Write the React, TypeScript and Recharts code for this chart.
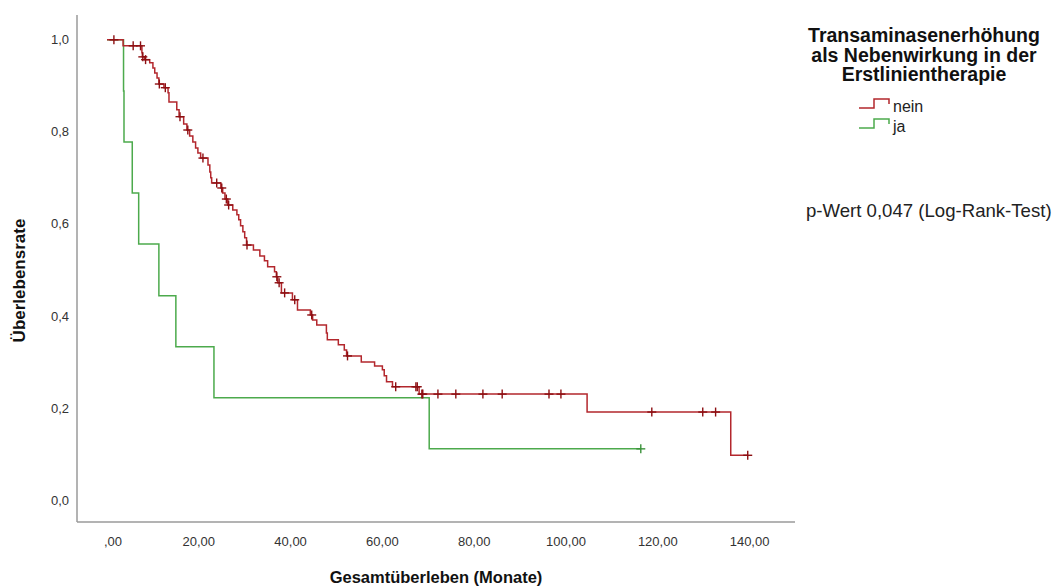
import React from 'react';
import { ComposedChart, Line, Scatter, XAxis, YAxis, Label } from 'recharts';

const FONT = '"Liberation Sans", Arial, Helvetica, sans-serif';

// Kaplan–Meier step points: [months, cumulative survival from that time on]
const neinSteps: [number, number][] = [
  [0, 1.0], [3.5, 0.987], [7.6, 0.972], [7.7, 0.963], [8.2, 0.957], [9.3, 0.95],
  [10.0, 0.939], [10.4, 0.928], [10.9, 0.917], [11.3, 0.904], [12.4, 0.896],
  [13.3, 0.885], [13.5, 0.865], [15.2, 0.848], [15.7, 0.833], [16.7, 0.817],
  [17.4, 0.804], [18.0, 0.791], [18.7, 0.778], [19.3, 0.765], [19.8, 0.754],
  [20.4, 0.743], [22.0, 0.728], [22.4, 0.713], [22.6, 0.7], [22.8, 0.689],
  [24.8, 0.678], [25.2, 0.667], [25.7, 0.654], [26.3, 0.641], [27.4, 0.63],
  [28.3, 0.62], [28.7, 0.609], [29.1, 0.596], [29.6, 0.583], [30.0, 0.57],
  [30.4, 0.554], [31.9, 0.543], [33.3, 0.53], [34.3, 0.52], [35.0, 0.507],
  [36.5, 0.496], [36.9, 0.485], [37.2, 0.472], [38.0, 0.45], [40.4, 0.435],
  [41.5, 0.413], [44.3, 0.402], [44.8, 0.391], [45.7, 0.38], [47.8, 0.363],
  [48.0, 0.348], [50.4, 0.337], [51.7, 0.326], [52.2, 0.313], [55.4, 0.3],
  [58.3, 0.291], [60.0, 0.283], [60.4, 0.27], [60.9, 0.257], [62.2, 0.246],
  [68.0, 0.23], [104.6, 0.191], [135.9, 0.097], [139.6, 0.097],
];

// censored observations (months, survival level at that time)
const neinCensored: [number, number][] = [
  [1.5, 1.0], [5.7, 0.987], [7.3, 0.987], [7.8, 0.963], [8.4, 0.957], [11.4, 0.904],
  [12.7, 0.896], [15.9, 0.833], [17.6, 0.804], [20.9, 0.743], [23.9, 0.689],
  [25.0, 0.678], [26.0, 0.654], [26.5, 0.641], [30.5, 0.554], [37.0, 0.485],
  [37.5, 0.472], [38.7, 0.45], [40.9, 0.435], [44.6, 0.402], [52.4, 0.313],
  [62.9, 0.246], [67.3, 0.246], [67.6, 0.246], [68.6, 0.23], [68.8, 0.23],
  [72.1, 0.23], [76.0, 0.23], [81.9, 0.23], [86.1, 0.23], [96.3, 0.23],
  [98.9, 0.23], [118.7, 0.191], [129.8, 0.191], [132.6, 0.191], [139.6, 0.097],
];

const jaSteps: [number, number][] = [
  [0, 1.0], [3.6, 0.889], [3.7, 0.778], [5.5, 0.667], [6.9, 0.556], [11.3, 0.444],
  [15.0, 0.333], [23.3, 0.222], [70.2, 0.111], [116.3, 0.111],
];

const jaCensored: [number, number][] = [[116.3, 0.111]];

const xTicks = [0, 20, 40, 60, 80, 100, 120, 140];
const yTicks = [0, 0.2, 0.4, 0.6, 0.8, 1.0];

const groups = ['nein', 'ja'];
const legendTitle = ['Transaminasenerhöhung', 'als Nebenwirkung in der', 'Erstlinientherapie'];
const pValueText = 'p-Wert 0,047 (Log-Rank-Test)';

const RED = '#b3272d';
const RED_MARK = '#8c0f12';
const GREEN = '#4caa4c';
const GREEN_MARK = '#3a923a';

const toRows = (pts: [number, number][]) => pts.map(([t, v]) => ({ t, v }));

const neinData = toRows(neinSteps);
const jaData = toRows(jaSteps);
const neinCensorData = toRows(neinCensored);
const jaCensorData = toRows(jaCensored);

const fmtX = (v: number) => (v === 0 ? ',00' : v.toFixed(2).replace('.', ','));
const fmtY = (v: number) => v.toFixed(1).replace('.', ',');

const plus = (color: string) => (props: any) => {
  const { cx, cy } = props;
  if (cx == null || cy == null) return <g />;
  return (
    <g stroke={color} strokeWidth={1.4}>
      <line x1={cx - 4.5} x2={cx + 4.5} y1={cy} y2={cy} />
      <line x1={cx} x2={cx} y1={cy - 4.5} y2={cy + 4.5} />
    </g>
  );
};

const XTick = (props: any) => {
  const { x, y, payload } = props;
  const v = payload.value as number;
  return (
    <text x={x} y={y} dx={v === 0 ? 6 : 0} dy="0.355em" textAnchor="middle"
      fontFamily={FONT} fontSize={13} fill="#333">
      {fmtX(v)}
    </text>
  );
};

const YTick = (props: any) => {
  const { x, y, payload } = props;
  return (
    <text x={x} y={y} dy="0.355em" textAnchor="end" fontFamily={FONT} fontSize={13} fill="#333">
      {fmtY(payload.value)}
    </text>
  );
};

const StepIcon = ({ x, y, color }: { x: number; y: number; color: string }) => (
  <path d={`M${x},${y} h15 v-9 h15 v5`} fill="none" stroke={color} strokeWidth={1.5} />
);

export default function App() {
  return (
    <div style={{ position: 'absolute', left: 0, top: 0, width: 1056, height: 587, background: '#fff' }}>
      <ComposedChart width={1056} height={587} margin={{ top: 15, right: 261, bottom: 35, left: 17 }}>
        <XAxis
          type="number"
          dataKey="t"
          domain={[-6.54, 149.9]}
          ticks={xTicks}
          allowDataOverflow
          tickLine={false}
          tickSize={0}
          tickMargin={19}
          height={30}
          axisLine={{ stroke: '#9a9a9a', strokeWidth: 1.5 }}
          tick={<XTick />}
        >
          <Label
            content={(p: any) => {
              const vb = p.viewBox;
              return (
                <text x={vb.x + vb.width / 2} y={vb.y + 61} textAnchor="middle"
                  fontFamily={FONT} fontSize={16.5} fontWeight="bold" fill="#111">
                  Gesamtüberleben (Monate)
                </text>
              );
            }}
          />
        </XAxis>
        <YAxis
          type="number"
          dataKey="v"
          domain={[-0.048, 1.054]}
          ticks={yTicks}
          allowDataOverflow
          tickLine={false}
          tickSize={0}
          tickMargin={8}
          width={60}
          axisLine={{ stroke: '#9a9a9a', strokeWidth: 1.5 }}
          tick={<YTick />}
        >
          <Label
            content={(p: any) => {
              const vb = p.viewBox;
              const cx = vb.x + 2;
              const cy = vb.y + vb.height / 2 + 12;
              return (
                <text x={cx} y={cy} transform={`rotate(-90, ${cx}, ${cy})`} textAnchor="middle"
                  dominantBaseline="central" fontFamily={FONT} fontSize={17} fontWeight="bold" fill="#111">
                  Überlebensrate
                </text>
              );
            }}
          />
        </YAxis>
        <Line data={jaData} dataKey="v" type="stepAfter" stroke={GREEN} strokeWidth={1.5}
          dot={false} activeDot={false} isAnimationActive={false} />
        <Line data={neinData} dataKey="v" type="stepAfter" stroke={RED} strokeWidth={1.5}
          dot={false} activeDot={false} isAnimationActive={false} />
        <Scatter data={jaCensorData} dataKey="v" shape={plus(GREEN_MARK)} isAnimationActive={false} />
        <Scatter data={neinCensorData} dataKey="v" shape={plus(RED_MARK)} isAnimationActive={false} />
      </ComposedChart>

      <svg width={1056} height={587} style={{ position: 'absolute', left: 0, top: 0, pointerEvents: 'none' }}>
        {legendTitle.map((line, i) => (
          <text key={line} x={924} y={42 + i * 19.5} textAnchor="middle" fontFamily={FONT}
            fontSize={19.5} fontWeight="bold" fill="#111">
            {line}
          </text>
        ))}
        <StepIcon x={859} y={108} color={RED} />
        <text x={893} y={112} fontFamily={FONT} fontSize={16} fill="#222">{groups[0]}</text>
        <StepIcon x={859} y={128} color={GREEN} />
        <text x={893} y={132} fontFamily={FONT} fontSize={16} fill="#222">{groups[1]}</text>
        <text x={806} y={217} fontFamily={FONT} fontSize={18.6} fill="#222">{pValueText}</text>
      </svg>
    </div>
  );
}
